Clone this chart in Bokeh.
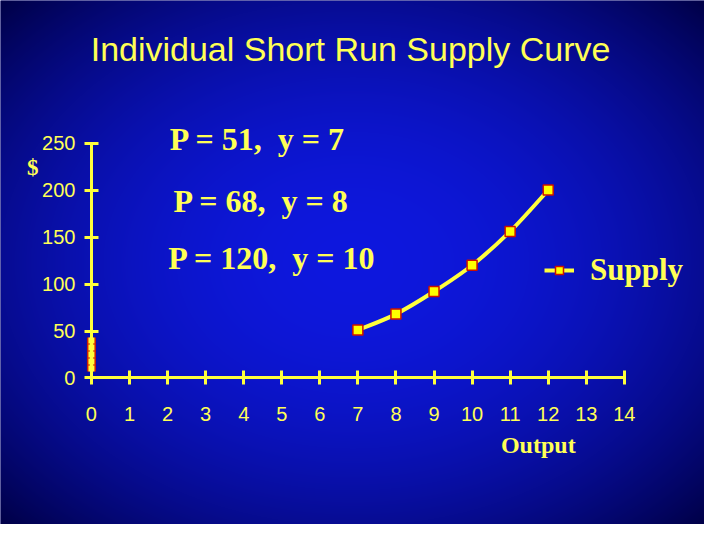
import numpy as np
from bokeh.plotting import figure
from bokeh.models import FixedTicker, Label, Legend, LegendItem
from bokeh.embed import file_html
from bokeh.resources import INLINE

# ---- data ----
output_qty = [7, 8, 9, 10, 11, 12]
price = [51, 68, 92, 120, 156, 200]
shutdown_x = [0, 0]
shutdown_y = [7, 43]
x_ticks = list(range(0, 15))
y_ticks = [0, 50, 100, 150, 200, 250]
title_text = "Individual Short Run Supply Curve"
notes = ["P = 51,\u00a0 y = 7", "P = 68,\u00a0 y = 8", "P = 120,\u00a0 y = 10"]
x_label = "Output"
y_label = "$"
series_name = "Supply"

# ---- layout (reference coords scaled to canvas) ----
W, H = 704, 524
SX, SY = W / 720.0, H / 540.0
x0_px, x14_px = 93 * SX, 638 * SX
y0_px, y250_px = 389 * SY, 147 * SY
px_x = (x14_px - x0_px) / 14.0
px_y = (y0_px - y250_px) / 250.0
x_start = -x0_px / px_x
x_end = (W - x0_px) / px_x
y_end = y0_px / px_y
y_start = -(H - y0_px) / px_y

YEL = "#FFFF3C"
TXT = "#FFFF55"

p = figure(width=W, height=H, output_backend="svg", toolbar_location=None,
           x_range=(x_start, x_end), y_range=(y_start, y_end),
           min_border=0, min_border_left=0, min_border_right=0,
           min_border_top=0, min_border_bottom=0)
p.outline_line_color = None
p.grid.visible = False
p.background_fill_color = "#000070"
p.border_fill_color = "#000070"

# background radial gradient
cx, cy = W / 2.0, H / 2.0
yy, xx = np.mgrid[0:H, 0:W]
d = np.sqrt(((xx - cx) / (W / 2.0)) ** 2 + ((yy - cy) / (H / 2.0)) ** 2)
f = np.clip(d / 1.42, 0, 1) ** 2.0
center = np.array([14, 24, 222], dtype=float)
edge = np.array([0, 0, 70], dtype=float)
img = center[None, None, :] * (1 - f[..., None]) + edge[None, None, :] * f[..., None]
view = np.zeros((H, W, 4), dtype=np.uint8)
view[..., :3] = img.astype(np.uint8)
view[..., 3] = 255
view = np.ascontiguousarray(view[::-1])
rgba = view.view(dtype=np.uint32).reshape((H, W))
p.image_rgba(image=[rgba], x=x_start, y=y_start, dw=x_end - x_start, dh=y_end - y_start)

# axes at origin
for ax in (p.xaxis, p.yaxis):
    ax.fixed_location = 0
    ax.axis_line_color = YEL
    ax.axis_line_width = 3
    ax.major_tick_line_color = YEL
    ax.major_tick_line_width = 3
    ax.major_tick_in = 7
    ax.major_tick_out = 7
    ax.minor_tick_line_color = None
    ax.major_label_text_color = TXT
    ax.major_label_text_font = "Liberation Sans"
    ax.major_label_text_font_size = "20px"
p.xaxis.ticker = FixedTicker(ticks=x_ticks)
p.yaxis.ticker = FixedTicker(ticks=y_ticks)
p.xaxis.bounds = (0, 14)
p.yaxis.bounds = (0, 250)
p.xaxis.major_label_standoff = 22
p.yaxis.major_label_standoff = 9

# shutdown segment at zero output
p.line(shutdown_x, shutdown_y, line_color="#D02000", line_width=9)
p.line(shutdown_x, shutdown_y, line_color=YEL, line_width=6, line_dash="6 1")

# supply curve: smooth Catmull-Rom through the data points, drawn as beziers
xs = [output_qty[0]] + output_qty + [output_qty[-1]]
ys = [price[0]] + price + [price[-1]]
x0s, y0s, x1s, y1s, cx0, cy0, cx1, cy1 = [], [], [], [], [], [], [], []
for i in range(1, len(xs) - 2):
    x0s.append(xs[i]); y0s.append(ys[i]); x1s.append(xs[i + 1]); y1s.append(ys[i + 1])
    cx0.append(xs[i] + (xs[i + 1] - xs[i - 1]) / 6.0)
    cy0.append(ys[i] + (ys[i + 1] - ys[i - 1]) / 6.0)
    cx1.append(xs[i + 1] - (xs[i + 2] - xs[i]) / 6.0)
    cy1.append(ys[i + 1] - (ys[i + 2] - ys[i]) / 6.0)
ln = p.bezier(x0=x0s, y0=y0s, x1=x1s, y1=y1s, cx0=cx0, cy0=cy0, cx1=cx1, cy1=cy1,
              line_color=YEL, line_width=4)
mk = p.scatter(output_qty, price, marker="square", size=10, fill_color="#FFFF00",
               line_color="#CC1100", line_width=1.5)

legend = Legend(items=[LegendItem(label=series_name, renderers=[ln, mk])],
                location=(544, 236), padding=0, margin=0, spacing=0,
                glyph_width=30, glyph_height=20, label_standoff=16,
                background_fill_alpha=0, border_line_alpha=0,
                label_text_color=TXT, label_text_font="Liberation Serif",
                label_text_font_style="bold", label_text_font_size="31px")
p.add_layout(legend)

def lab(text, x, y, size, font="Liberation Serif", style="bold", align="center"):
    p.add_layout(Label(text=text, x=x * SX, y=H - y * SY, x_units="screen", y_units="screen",
                       text_color=TXT, text_font=font, text_font_style=style,
                       text_font_size=size, text_align=align, text_baseline="middle"))

lab(title_text, 358, 50, "34px", font="Liberation Sans", style="normal")
lab(notes[0], 263, 143, "32px")
lab(notes[1], 267, 207, "32px")
lab(notes[2], 278, 265, "32px")
lab(x_label, 550, 458, "24px")
lab(y_label, 33, 172, "23px")

open("out.html", "w").write(file_html(p, INLINE))
